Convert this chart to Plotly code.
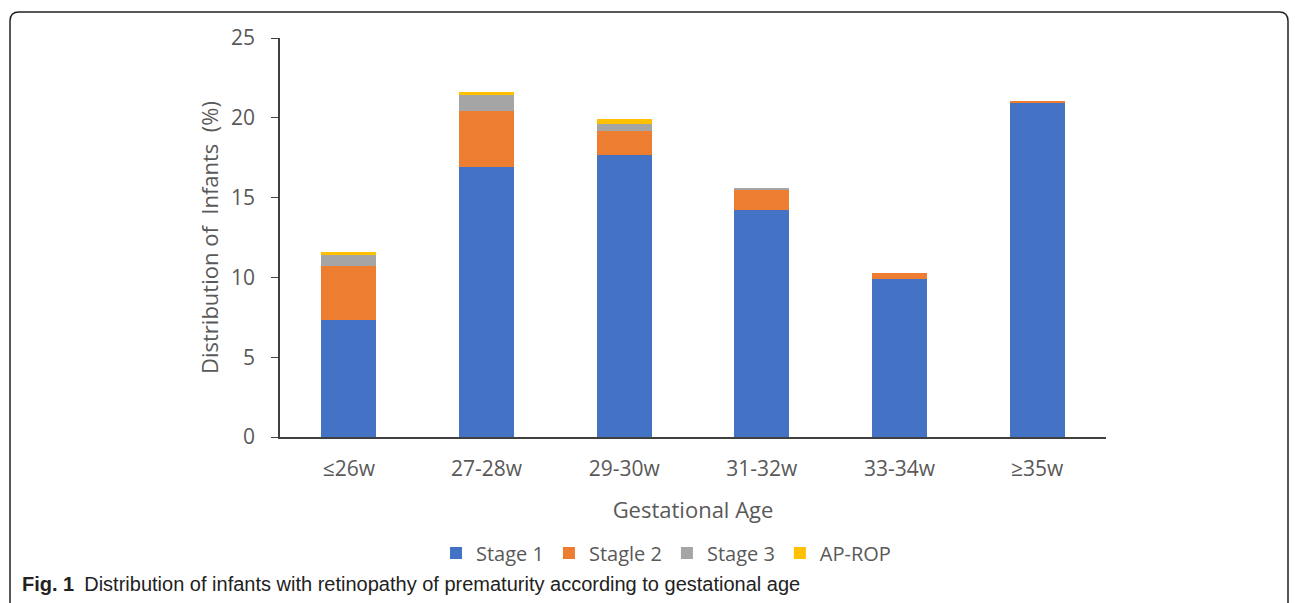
import plotly.graph_objects as go

categories = ["≤26w", "27-28w", "29-30w", "31-32w", "33-34w", "≥35w"]
stage1 = [7.3, 16.9, 17.7, 14.2, 9.9, 20.9]
stage2 = [3.4, 3.55, 1.5, 1.3, 0.35, 0.15]
stage3 = [0.7, 0.95, 0.4, 0.1, 0.0, 0.0]
ap_rop = [0.2, 0.2, 0.3, 0.0, 0.0, 0.0]
series_names = ["Stage 1", "Stagle 2", "Stage 3", "AP-ROP"]
colors = ["#4472C4", "#ED7D31", "#A5A5A5", "#FFC000"]

FONT = "Open Sans"
fig = go.Figure()
for name, vals, col in zip(series_names, [stage1, stage2, stage3, ap_rop], colors):
    fig.add_trace(go.Bar(x=categories, y=vals, name=name, marker_color=col,
                         marker_line_width=0))

W, H = 1295, 603
L, R, T, B = 280, 189, 38, 166
pw, ph = W - L - R, H - T - B

def px(x):
    return (x - L) / pw

def py(y):
    return (H - B - y) / ph

# rounded border frame (top corners rounded, bottom runs off the page)
x0, x1, ytop, ybot = px(10), px(1288), py(12), py(640)
rx, ry = 9 / pw, 9 / ph
path = (f"M {x0},{ybot} L {x0},{ytop - ry} Q {x0},{ytop} {x0 + rx},{ytop} "
        f"L {x1 - rx},{ytop} Q {x1},{ytop} {x1},{ytop - ry} L {x1},{ybot}")

GREY = "#595959"
fig.update_layout(
    width=W, height=H,
    margin=dict(l=L, r=R, t=T, b=B, autoexpand=False),
    barmode="stack", bargap=0.6,
    plot_bgcolor="white", paper_bgcolor="white",
    font=dict(family=FONT, color=GREY, size=20),
    showlegend=True,
    legend=dict(orientation="h", x=px(666), xanchor="center", y=py(553), yanchor="middle",
                font=dict(size=20, color=GREY), traceorder="normal"),
    xaxis=dict(showline=True, linecolor="#404040", linewidth=1.5, ticks="",
               showgrid=False, tickfont=dict(size=21, color=GREY),
               ticklabelstandoff=12,
               title=dict(text="Gestational Age", font=dict(size=22, color=GREY), standoff=22)),
    yaxis=dict(range=[0, 25], tickvals=[0, 5, 10, 15, 20, 25], showline=True,
               linecolor="#404040", linewidth=1.5, ticks="outside", ticklen=7,
               tickcolor="#404040", showgrid=False, zeroline=False,
               ticklabelstandoff=12,
               tickfont=dict(size=21, color=GREY),
               title=dict(text="Distribution of\u00a0 Infants\u00a0 (%)",
                          font=dict(size=22, color=GREY), standoff=6)),
    shapes=[dict(type="path", xref="paper", yref="paper", path=path,
                 line=dict(color="#222222", width=1.5))],
    annotations=[dict(xref="paper", yref="paper", x=px(20), y=py(584), xanchor="left",
                      yanchor="middle", showarrow=False,
                      text="<b>Fig. 1</b>\u2002Distribution of infants with retinopathy of prematurity according to gestational age",
                      font=dict(family="Liberation Sans Narrow, Liberation Sans", size=20, color="#222222"))],
)

fig.write_html("out.html", config={"displayModeBar": False},
               post_script="document.body.style.margin='0';")
